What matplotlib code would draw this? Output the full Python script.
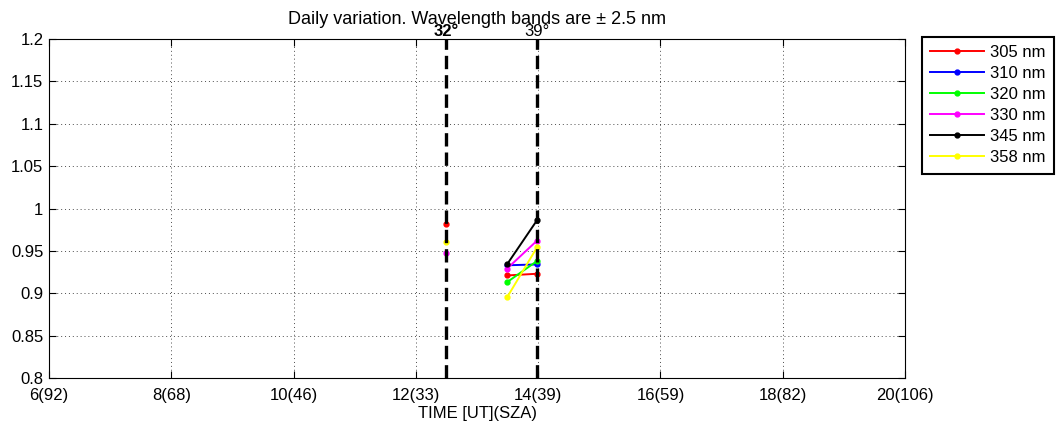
import numpy as np
import matplotlib
matplotlib.use("Agg")
import matplotlib.pyplot as plt

plt.rcParams['font.family'] = ['Liberation Sans', 'DejaVu Sans']

# first scan (single points, not joined to the later scans)
t_first = 12.49
first_305 = 0.982
first_330 = 0.948
first_358 = 0.960

# later scans (UT hours) joined by lines
times = [13.49, 13.98]
r305 = [0.921, 0.923]
r310 = [0.933, 0.934]
r320 = [0.913, 0.938]
r330 = [0.929, 0.962]
r345 = [0.934, 0.986]
r358 = [0.895, 0.954]

labels = ["305 nm", "310 nm", "320 nm", "330 nm", "345 nm", "358 nm"]
colors = ["red", "blue", "lime", "magenta", "black", "yellow"]
first_vals = [first_305, np.nan, np.nan, first_330, np.nan, first_358]
later_vals = [r305, r310, r320, r330, r345, r358]

xticks = [6, 8, 10, 12, 14, 16, 18, 20]
xticklabels = ["6(92)", "8(68)", "10(46)", "12(33)", "14(39)", "16(59)", "18(82)", "20(106)"]
yticks = [0.8, 0.85, 0.9, 0.95, 1.0, 1.05, 1.1, 1.15, 1.2]
ytick_labels = ["0.8", "0.85", "0.9", "0.95", "1", "1.05", "1.1", "1.15", "1.2"]

sza_times = [12.49, 13.98]
sza_labels = ["32°", "39°"]
sza_weights = ["bold", "normal"]

fig = plt.figure(figsize=(10.59, 4.28), dpi=100)
ax = fig.add_axes([0.0463, 0.1168, 0.8083, 0.7921])

for lbl, col, fv, lv in zip(labels, colors, first_vals, later_vals):
    ax.plot([t_first], [fv], linestyle='none', color=col, marker='.', markersize=7)
    ax.plot(times, lv, '-', color=col, marker='.', markersize=7, linewidth=1.4, label=lbl)

for t, s, w in zip(sza_times, sza_labels, sza_weights):
    ax.axvline(t, color='black', linestyle=(0, (4, 1.8)), linewidth=2.4, zorder=5)
    ax.text(t, 1.2, s, ha='center', va='bottom', fontsize=12, fontweight=w, clip_on=False)

ax.set_xlim(6, 20)
ax.set_ylim(0.8, 1.2)
ax.set_xticks(xticks)
ax.set_xticklabels(xticklabels, fontsize=12)
ax.set_yticks(yticks)
ax.set_yticklabels(ytick_labels, fontsize=12)
ax.tick_params(direction='in', length=5, top=True, right=True)
ax.tick_params(axis='x', pad=7)
ax.tick_params(axis='y', pad=4)
ax.grid(True, linestyle=(0, (1, 3)), color='black', linewidth=0.7, alpha=0.7)
ax.set_xlabel("TIME [UT](SZA)", fontsize=12, labelpad=2)
ax.set_title("Daily variation. Wavelength bands are ± 2.5 nm", fontsize=13, pad=11)

leg = ax.legend(loc='upper left', bbox_to_anchor=(922 / 1059, 1 - 37 / 428),
                bbox_transform=fig.transFigure, fontsize=12, handlelength=3.2,
                fancybox=False, edgecolor='black', framealpha=1, borderaxespad=0,
                labelspacing=0.36, handletextpad=0.4, borderpad=0.5)
leg.get_frame().set_linewidth(1.5)

fig.savefig("out.png", dpi=100)
